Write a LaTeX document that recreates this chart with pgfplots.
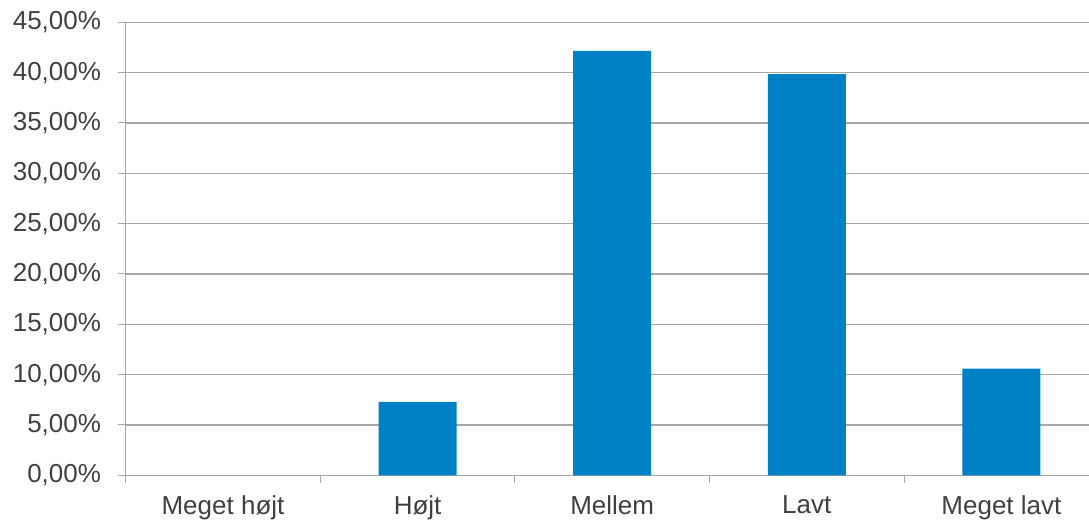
\documentclass[border=0pt]{standalone}
\usepackage{pgfplots}
\pgfplotsset{compat=1.18}
\usepackage{fontspec}
\setmainfont{Liberation Sans}
\definecolor{barblue}{HTML}{0081C6}
\definecolor{gridgray}{HTML}{A6A6A6}
\definecolor{txt}{HTML}{404040}
\begin{document}
\begin{tikzpicture}[x=1pt,y=1pt]
\useasboundingbox (0,0) rectangle (1089,522);
\clip (0,0) rectangle (1089,522);
\begin{axis}[
  at={(125.7pt,46.7pt)}, anchor=south west,
  scale only axis, width=973pt, height=453pt,
  xmin=-0.5, xmax=4.5, ymin=0, ymax=45,
  axis lines=left, axis line style={-, draw=gridgray, line width=1.2pt},
  ymajorgrids, grid style={draw=gridgray, line width=1.2pt},
  ytick={0,5,...,45},
  yticklabels={{0,00\%},{5,00\%},{10,00\%},{15,00\%},{20,00\%},{25,00\%},{30,00\%},{35,00\%},{40,00\%},{45,00\%}},
  tick align=outside, major tick length=7.5pt,
  tick style={draw=gridgray, line width=1pt},
  xtick={0,1,2,3,4},
  xticklabels={Meget højt, Højt, Mellem, Lavt, Meget lavt},
  xtick style={draw=none},
  extra x ticks={-0.5,0.5,1.5,2.5,3.5,4.5},
  extra x tick labels={},
  extra x tick style={xtick style={draw=gridgray, line width=1pt}},
  ticklabel style={font=\fontsize{26}{31}\selectfont, text=txt},
  yticklabel style={anchor=east, inner sep=0pt, xshift=-17pt},
  xticklabel style={anchor=north, inner sep=0pt, yshift=-13pt},
]
\addplot[ybar, bar width=78pt, fill=barblue, draw=none] coordinates {(0,0) (1,7.3) (2,42.15) (3,39.85) (4,10.6)};
\end{axis}
\end{tikzpicture}
\end{document}
